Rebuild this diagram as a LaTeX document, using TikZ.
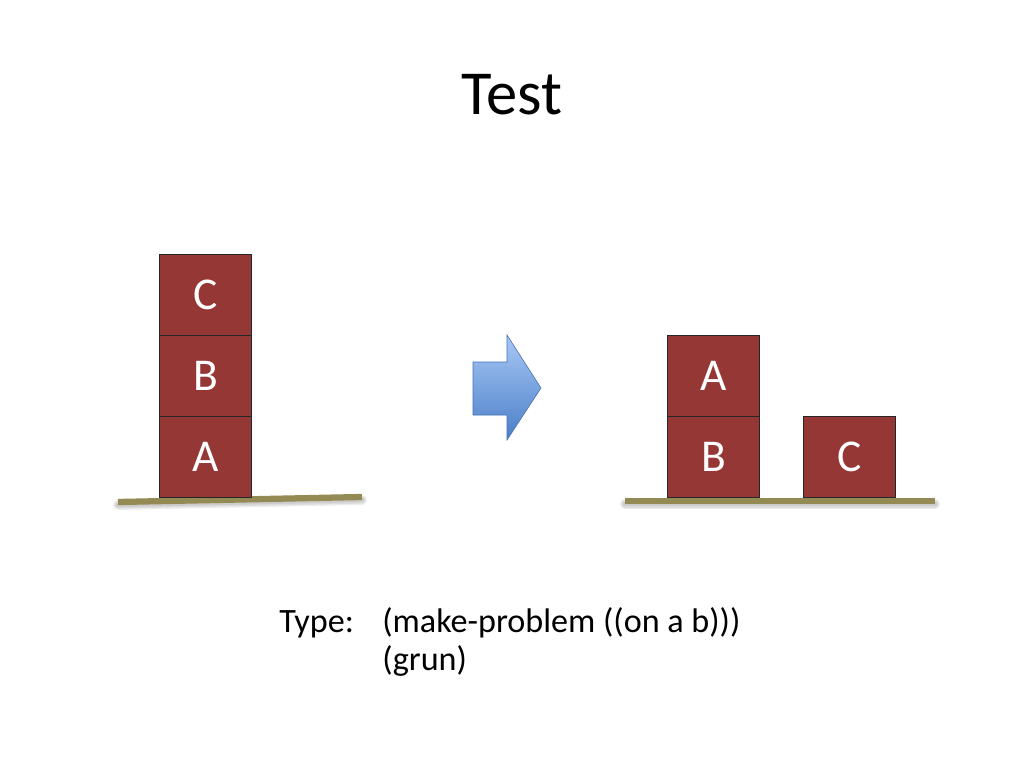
\documentclass[tikz,border=0pt]{standalone}
\usepackage{fontspec}
\setmainfont{Carlito}
\usetikzlibrary{shadings}
\definecolor{blockred}{HTML}{953735}
\definecolor{groundc}{HTML}{948A54}
\definecolor{arrowtop}{HTML}{A9C8F5}
\definecolor{arrowbot}{HTML}{4A7EC8}
\begin{document}
\begin{tikzpicture}[x=0.703125pt,y=-0.703125pt,
  block/.style={draw=black!85,line width=0.6pt,fill=blockred,minimum width=92*0.703125pt,minimum height=81*0.703125pt,inner sep=0pt,text=white,font=\fontsize{32}{36}\selectfont,anchor=north west},
  ground/.style={draw=groundc,line width=4.4pt},
  gshadow/.style={draw=black,opacity=0.07,line cap=round},
  lbl/.style={font=\fontsize{24}{28}\selectfont,anchor=base west,inner sep=0pt}]
\useasboundingbox (0,0) rectangle (1024,768);
\fill[white] (0,0) rectangle (1024,768);
% title
\node[font=\fontsize{44}{52}\selectfont,anchor=base,inner sep=0pt] (title) at (512,115) {Test};
% left ground
\coordinate (lg1) at (118,502);
\coordinate (lg2) at (362,497);
\foreach \w in {3,5,7}{
  \draw[gshadow,line width=\w pt] ([yshift=-3*0.703125pt]lg1) -- ([yshift=-3*0.703125pt]lg2);}
\draw[ground] (lg1) -- (lg2);
% left stack
\node[block] (lc) at (159,254) {C};
\node[block] (lb) at (159,335) {B};
\node[block] (la) at (159,416) {A};
% arrow
\shade[top color=arrowtop,bottom color=arrowbot,draw=arrowbot!90!black,line width=0.4pt]
  (473,362) -- (507,362) -- (507,335) -- (541,388) -- (507,440) -- (507,415) -- (473,415) -- cycle;
% right ground
\coordinate (rg1) at (625,501);
\coordinate (rg2) at (935,501);
\foreach \w in {3,5,7}{
  \draw[gshadow,line width=\w pt] ([yshift=-3*0.703125pt]rg1) -- ([yshift=-3*0.703125pt]rg2);}
\draw[ground] (rg1) -- (rg2);
% right stacks
\node[block] (ra) at (667,335) {A};
\node[block] (rb) at (667,416) {B};
\node[block] (rc) at (803,416) {C};
% text
\node[lbl] (type) at (279,632) {Type:};
\node[lbl] (cmd1) at (382,632) {(make-problem ((on a b)))};
\node[lbl] (cmd2) at (382,670) {(grun)};
\end{tikzpicture}
\end{document}
